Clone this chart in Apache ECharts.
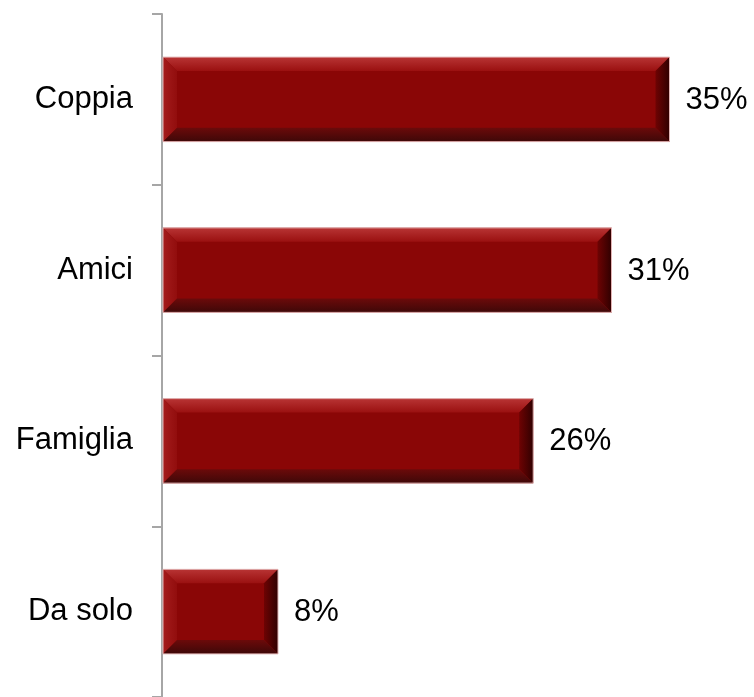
<!DOCTYPE html>
<html>
<head>
<meta charset="utf-8">
<script src="https://cdn.jsdelivr.net/npm/echarts@6/dist/echarts.min.js"></script>
<style>
  html, body { margin: 0; padding: 0; background: #fff; }
  #main { width: 754px; height: 697px; }
</style>
</head>
<body>
<div id="main"></div>
<script>
const categories = ['Coppia', 'Amici', 'Famiglia', 'Da solo']
const values = [35, 31, 25.6, 8]
const valueLabels = ['35%', '31%', '26%', '8%']

const chart = echarts.init(document.getElementById('main'))

// bar with bevelled edges, drawn on the axis coordinates
function renderBevelBar (params, api) {
  const v = api.value(0)
  const idx = api.value(1)
  const start = api.coord([0, idx])
  const end = api.coord([v, idx])
  const bandH = api.size([0, 1])[1]
  const h = bandH * 0.495
  const x0 = start[0] + 1
  const x1 = end[0]
  const y0 = start[1] - h / 2
  const y1 = y0 + h
  const b = 14
  const lin = (x, y, x2, y2, c1, c2) => new echarts.graphic.LinearGradient(x, y, x2, y2, [
    { offset: 0, color: c1 }, { offset: 1, color: c2 }
  ])
  return {
    type: 'group',
    children: [
      { type: 'rect', shape: { x: x0, y: y0, width: x1 - x0, height: h }, style: { fill: '#8a0606' } },
      { type: 'polygon', shape: { points: [[x0, y0], [x1, y0], [x1 - b, y0 + b], [x0 + b, y0 + b]] },
        style: { fill: lin(0, 0, 0, 1, '#b83434', '#9a1010') } },
      { type: 'polygon', shape: { points: [[x0, y0], [x0 + b, y0 + b], [x0 + b, y1 - b], [x0, y1]] },
        style: { fill: lin(0, 0, 1, 0, '#a41c1c', '#920d0d') } },
      { type: 'polygon', shape: { points: [[x1, y0], [x1, y1], [x1 - b, y1 - b], [x1 - b, y0 + b]] },
        style: { fill: lin(0, 0, 1, 0, '#6e0303', '#300000') } },
      { type: 'polygon', shape: { points: [[x0, y1], [x0 + b, y1 - b], [x1 - b, y1 - b], [x1, y1]] },
        style: { fill: lin(0, 0, 0, 1, '#6c0a0a', '#3e0808') } },
      { type: 'rect', shape: { x: x0, y: y0, width: x1 - x0, height: h },
        style: { fill: null, stroke: '#e2b4b4', lineWidth: 1 } },
      { type: 'text', x: x1 + 16, y: start[1] + 1,
        style: { text: valueLabels[idx], fill: '#000', font: '31px "Liberation Sans", Arial', verticalAlign: 'middle', align: 'left' } }
    ]
  }
}

const option = {
  animation: false,
  grid: { left: 162, top: 14, width: 580, height: 688 },
  xAxis: { type: 'value', min: 0, max: 40, show: false },
  yAxis: {
    type: 'category',
    data: categories,
    inverse: true,
    axisLine: { show: true, lineStyle: { color: '#a6a6a6', width: 2 } },
    axisTick: { show: true, length: 10, lineStyle: { color: '#a6a6a6', width: 2 } },
    axisLabel: { color: '#000', fontSize: 31, fontFamily: '"Liberation Sans", Arial', margin: 29 },
    splitLine: { show: false }
  },
  series: [{
    type: 'custom',
    renderItem: renderBevelBar,
    encode: { x: 0, y: 1 },
    data: values.map((v, i) => [v, i])
  }]
}
chart.setOption(option)
</script>
</body>
</html>
